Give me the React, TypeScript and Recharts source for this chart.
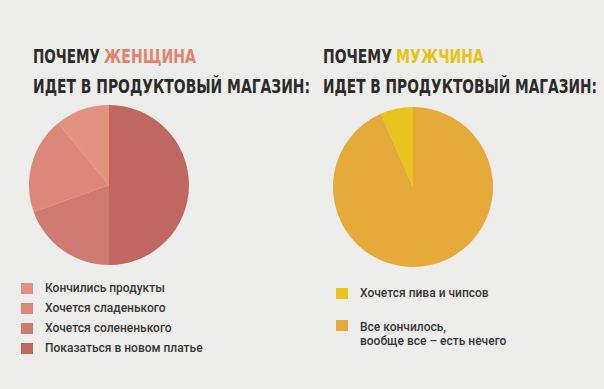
import React from "react";
import { Cell, Pie, PieChart } from "recharts";

const womanReasons = ["Кончились продукты", "Хочется сладенького", "Хочется солененького", "Показаться в новом платье"];
const womanShares = [11, 19.5, 19.5, 50];
const womanColors = ["#e2937f", "#dc877a", "#d07b71", "#bf6760"];

const manReasons = ["Хочется пива и чипсов", "Все кончилось,\nвообще все – есть нечего"];
const manShares = [6.6, 93.4];
const manColors = ["#e9c51c", "#e5aa3a"];

const womanData = womanReasons.map((name, i) => ({ name, value: womanShares[i] }));
const manData = manReasons.map((name, i) => ({ name, value: manShares[i] }));

const TITLE_FONT = "'DejaVu Sans Condensed', 'DejaVu Sans', sans-serif";
const DARK = "#2d2b2a";
const SX = 0.76;

// squeezed heading text: natural glyphs scaled horizontally, then fitted to width
const Fit = ({ x, y, w, fill, children }: { x: number; y: number; w: number; fill: string; children: string }) => (
  <text x={x / SX} y={y} fill={fill} textLength={w / SX} lengthAdjust="spacingAndGlyphs">
    {children}
  </text>
);

const Title = ({ x, who, whoColor, w1, w2, w3 }: { x: number; who: string; whoColor: string; w1: number; w2: number; w3: number }) => (
  <g fontFamily={TITLE_FONT} fontWeight={700} fontSize={20} transform={`scale(${SX},1)`}>
    <Fit x={x} y={63} w={w1} fill={DARK}>ПОЧЕМУ</Fit>
    <Fit x={x + w1 + 4} y={63} w={w2} fill={whoColor}>{who}</Fit>
    <Fit x={x} y={93} w={w3} fill={DARK}>ИДЕТ В ПРОДУКТОВЫЙ МАГАЗИН:</Fit>
  </g>
);

const legendText: React.CSSProperties = {
  position: "absolute",
  fontFamily: "Roboto, sans-serif",
  fontWeight: 500,
  fontSize: 12,
  color: "#3a3836",
  lineHeight: "14px",
  whiteSpace: "pre",
};

export default function App() {
  const womanRows = [289, 309, 329, 349];
  const manRows = [294, 326];
  return (
    <div style={{ position: "absolute", left: 0, top: 0, width: 604, height: 389, background: "#ededeb", overflow: "hidden" }}>
      <svg width={604} height={389} style={{ position: "absolute", left: 0, top: 0 }}>
        <Title x={33} who="ЖЕНЩИНА" whoColor="#e5826b" w1={67} w2={92} w3={277} />
        <Title x={323} who="МУЖЧИНА" whoColor="#e9c313" w1={69} w2={88} w3={274} />
      </svg>

      <div style={{ position: "absolute", left: 9, top: 85 }}>
        <PieChart width={200} height={200}>
          <Pie data={womanData} dataKey="value" nameKey="name" cx={95} cy={95} outerRadius={80} startAngle={90} endAngle={450} stroke="none" isAnimationActive={false}>
            {womanData.map((d, i) => (
              <Cell key={d.name} fill={womanColors[i]} />
            ))}
          </Pie>
        </PieChart>
      </div>

      <div style={{ position: "absolute", left: 313, top: 87 }}>
        <PieChart width={200} height={200}>
          <Pie data={manData} dataKey="value" nameKey="name" cx={95} cy={95} outerRadius={80} startAngle={90} endAngle={450} stroke="none" isAnimationActive={false}>
            {manData.map((d, i) => (
              <Cell key={d.name} fill={manColors[i]} />
            ))}
          </Pie>
        </PieChart>
      </div>

      {womanReasons.map((r, i) => (
        <React.Fragment key={r}>
          <div style={{ position: "absolute", left: 21, top: womanRows[i] - 6, width: 12, height: 11, background: womanColors[i] }} />
          <div style={{ ...legendText, left: 45, top: womanRows[i] - 8 }}>{r}</div>
        </React.Fragment>
      ))}

      {manReasons.map((r, i) => (
        <React.Fragment key={r}>
          <div style={{ position: "absolute", left: 336, top: manRows[i] - 6, width: 12, height: 11, background: manColors[i] }} />
          <div style={{ ...legendText, left: 360, top: manRows[i] - 8 + (i === 1 ? 2 : 0) }}>{r}</div>
        </React.Fragment>
      ))}
    </div>
  );
}
